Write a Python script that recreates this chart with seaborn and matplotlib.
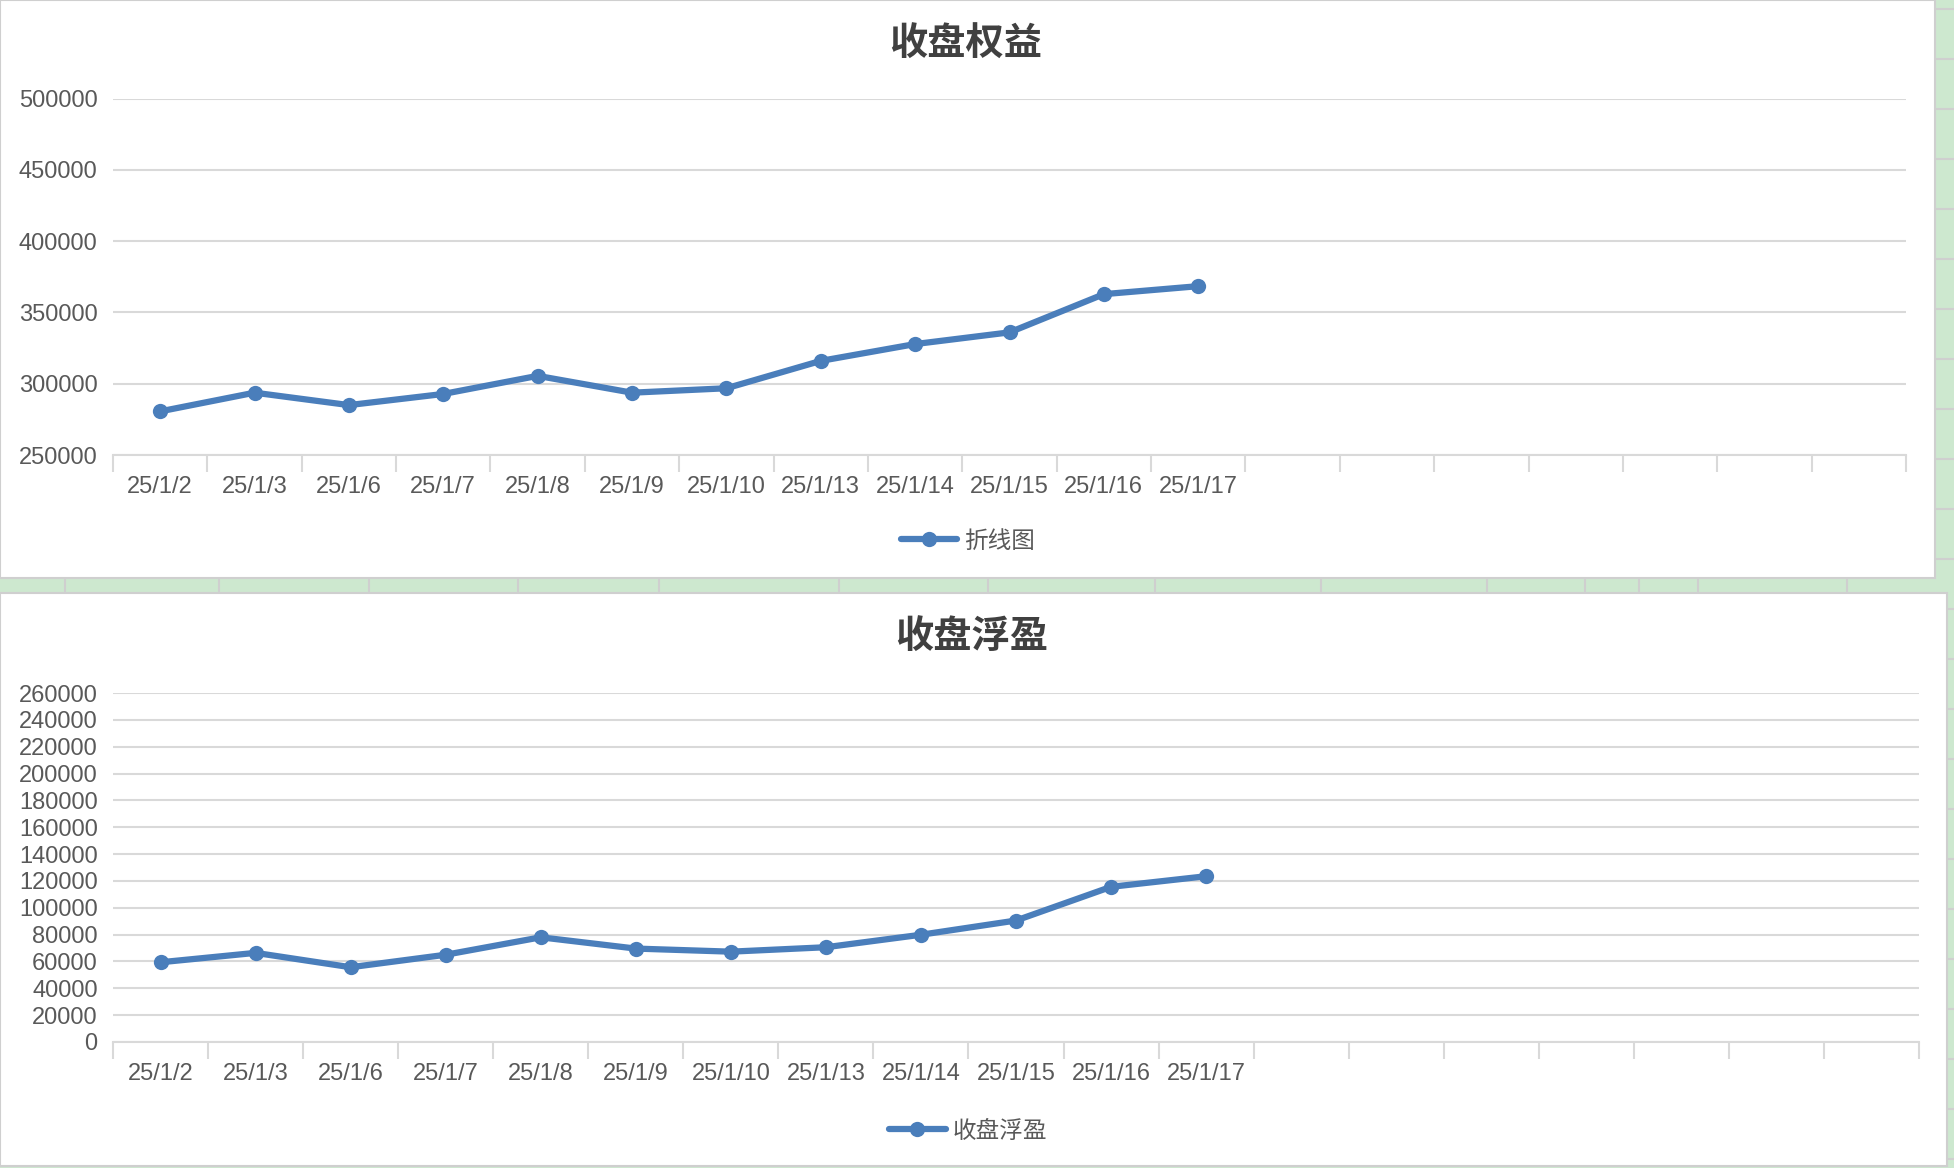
import numpy as np
import matplotlib
matplotlib.use('Agg')
import matplotlib.pyplot as plt
from matplotlib.patches import Rectangle
import pandas as pd
import seaborn as sns

# data
dates = ['25/1/2', '25/1/3', '25/1/6', '25/1/7', '25/1/8', '25/1/9', '25/1/10',
         '25/1/13', '25/1/14', '25/1/15', '25/1/16', '25/1/17']
equity = [280600, 293700, 285000, 292800, 305500, 293700, 296800,
          316000, 327800, 336000, 362800, 368400]
float_pnl = [59400, 66400, 55700, 65000, 78000, 69600, 67300,
             70600, 79900, 90500, 115600, 123500]
n_slots = 19  # category slots on the x axis (only the first 12 carry data)

title_top = '收盘权益'
title_bottom = '收盘浮盈'
legend_top = '折线图'
legend_bottom = '收盘浮盈'

LINE = '#4a7ebb'
GRID = '#d9d9d9'
TXT = '#595959'
GREEN = '#cde8cf'
BORDER = '#cfcfcf'

sns.set_style('white')
plt.rcParams['font.family'] = ['Liberation Sans', 'Noto Sans CJK SC', 'DejaVu Sans']

W, H = 1954, 1168
fig = plt.figure(figsize=(W / 100, H / 100), dpi=100)
fig.patch.set_facecolor(GREEN)


def px_rect(x0, y0, x1, y1):
    return Rectangle((x0 / W, 1 - y1 / H), (x1 - x0) / W, (y1 - y0) / H,
                     transform=fig.transFigure, facecolor='white',
                     edgecolor=BORDER, lw=1.5, zorder=0)


# spreadsheet grid lines peeking through
for gx in [65, 219, 369, 518, 659, 839, 988, 1155, 1321, 1487, 1585, 1639, 1698, 1847]:
    fig.add_artist(plt.Line2D([gx / W, gx / W], [1 - 578 / H, 1 - 593 / H],
                              transform=fig.transFigure, color=BORDER, lw=1.5, zorder=0))
for gy in np.arange(9, H, 50):
    fig.add_artist(plt.Line2D([1935 / W, 1], [1 - gy / H, 1 - gy / H],
                              transform=fig.transFigure, color=BORDER, lw=1.5, zorder=0))

fig.add_artist(px_rect(0, 0, 1935, 578))
fig.add_artist(px_rect(0, 593, 1947, 1166))


def draw_panel(ax, values, label, ylim, ystep):
    df = pd.DataFrame({'date': dates, 'value': values})
    sns.lineplot(data=df, x='date', y='value', ax=ax, sort=False, color=LINE,
                 lw=4.5, marker='o', markersize=11, markeredgewidth=0,
                 label=label)
    ax.set_facecolor('none')
    ax.set_xlim(-0.5, n_slots - 0.5)
    ax.set_ylim(*ylim)
    ax.set_yticks(np.arange(ylim[0], ylim[1] + 1, ystep))
    ax.set_xticks(range(len(dates)))
    ax.set_xticklabels(dates)
    ax.set_xticks(np.arange(-0.5, n_slots, 1), minor=True)
    ax.grid(axis='y', color=GRID, lw=1.5)
    ax.set_axisbelow(True)
    for s in ['top', 'right', 'left']:
        ax.spines[s].set_visible(False)
    ax.spines['bottom'].set_color(GRID)
    ax.spines['bottom'].set_linewidth(1.5)
    ax.tick_params(axis='x', which='major', bottom=True, length=0, pad=15,
                   labelsize=17, labelcolor=TXT)
    ax.tick_params(axis='x', which='minor', bottom=True, length=12, width=1.5,
                   color=GRID, direction='out')
    ax.tick_params(axis='y', length=0, pad=11, labelsize=17, labelcolor=TXT)
    ax.set_xlabel('')
    ax.set_ylabel('')


ax1 = fig.add_axes([113 / W, 1 - 455 / H, (1906 - 113) / W, (455 - 98.5) / H])
draw_panel(ax1, equity, legend_top, (250000, 500000), 50000)
ax2 = fig.add_axes([113 / W, 1 - 1042 / H, (1919 - 113) / W, (1042 - 693) / H])
draw_panel(ax2, float_pnl, legend_bottom, (0, 260000), 20000)

fig.text(966 / W, 1 - 44 / H, title_top, ha='center', va='center', fontsize=27.5,
         fontweight='bold', color='#404040', family=['Noto Sans CJK SC'])
fig.text(972 / W, 1 - 637 / H, title_bottom, ha='center', va='center', fontsize=27.5,
         fontweight='bold', color='#404040', family=['Noto Sans CJK SC'])

for ax, cy in [(ax1, 541), (ax2, 1131)]:
    leg = ax.legend(loc='center', bbox_to_anchor=(968 / W, 1 - cy / H),
                    bbox_transform=fig.transFigure, frameon=False,
                    handlelength=2.4, handletextpad=0.3,
                    prop={'family': ['Noto Sans CJK SC'], 'size': 17})
    for t in leg.get_texts():
        t.set_color(TXT)

fig.savefig('out.png', dpi=100, facecolor=fig.get_facecolor())
